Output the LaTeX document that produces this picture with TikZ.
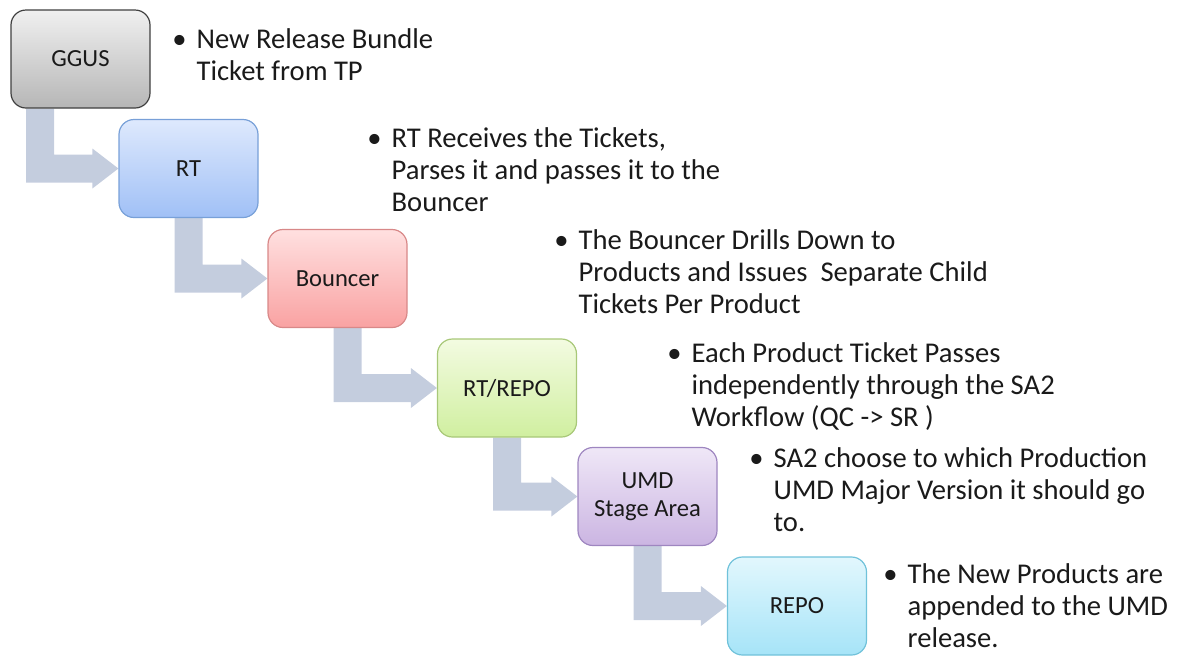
\documentclass[tikz,border=0pt]{standalone}
\usepackage{fontspec}
\setmainfont{Carlito}
\usetikzlibrary{calc,positioning,backgrounds}

\definecolor{arrowgray}{RGB}{196,205,222}
\definecolor{notetext}{RGB}{26,26,26}

\tikzset{
  stage/.style={rectangle, rounded corners=7.5pt, minimum width=69.5pt, minimum height=49pt,
    line width=0.6pt, text=notetext, align=center, font=\fontsize{12.3}{14}\selectfont},
  ggus/.style={stage, draw={rgb,255:red,64;green,64;blue,64}, top color={rgb,255:red,240;green,240;blue,240}, bottom color={rgb,255:red,182;green,182;blue,182}},
  rt/.style={stage, draw={rgb,255:red,120;green,160;blue,216}, top color={rgb,255:red,222;green,233;blue,253}, bottom color={rgb,255:red,160;green,192;blue,246}},
  bouncer/.style={stage, draw={rgb,255:red,216;green,136;blue,136}, top color={rgb,255:red,255;green,224;blue,224}, bottom color={rgb,255:red,249;green,162;blue,162}},
  rtrepo/.style={stage, draw={rgb,255:red,168;green,200;blue,120}, top color={rgb,255:red,243;green,251;blue,225}, bottom color={rgb,255:red,208;green,239;blue,160}},
  umd/.style={stage, draw={rgb,255:red,158;green,134;blue,192}, top color={rgb,255:red,239;green,231;blue,247}, bottom color={rgb,255:red,203;green,181;blue,226}},
  repo/.style={stage, draw={rgb,255:red,112;green,194;blue,218}, top color={rgb,255:red,226;green,247;blue,253}, bottom color={rgb,255:red,166;green,228;blue,248}},
  note/.style={anchor=base west, inner sep=0pt, text=notetext, font=\fontsize{14.3}{16}\selectfont},
  flowarrow/.style={fill=arrowgray}
}

% bent arrow from the bottom of #2 to the left side of #3, #1 shifts the shaft
\newcommand{\flowto}[3][0pt]{%
  \fill[flowarrow] let \p1=(#2.south), \p2=(#3.west) in
    (\x1+#1-7pt,\y1) -- (\x1+#1+7pt,\y1) -- (\x1+#1+7pt,\y2+7pt) -- (\x2-13pt,\y2+7pt)
    -- (\x2-13pt,\y2+10pt) -- (\x2,\y2) -- (\x2-13pt,\y2-10pt) -- (\x2-13pt,\y2-7pt)
    -- (\x1+#1-7pt,\y2-7pt) -- cycle;}

\begin{document}
\begin{tikzpicture}[x=0.5pt,y=-0.5pt]
  \useasboundingbox (0,0) rectangle (1179,655);

  \node[ggus] (ggus) at (80.5,59) {GGUS};
  \node[rt] (rt) at (188.5,168.5) {RT};
  \node[bouncer] (bouncer) at (337.5,278.5) {Bouncer};
  \node[rtrepo] (rtrepo) at (507,388) {RT/REPO};
  \node[umd] (umd) at (647.5,496.5) {UMD\\Stage Area};
  \node[repo] (repo) at (797,606) {REPO};

  \begin{pgfonlayer}{background}
    \flowto[-20.25pt]{ggus}{rt}
    \flowto{rt}{bouncer}
    \flowto[5pt]{bouncer}{rtrepo}
    \flowto{rtrepo}{umd}
    \flowto{umd}{repo}
  \end{pgfonlayer}

  \node[note] (note1) at (172,48) {\begin{tabular}[t]{@{}l@{\hspace{5pt}}l@{}}\textbullet & New Release Bundle\\ & Ticket from TP\end{tabular}};
  \node[note] (note2) at (367,147) {\begin{tabular}[t]{@{}l@{\hspace{5pt}}l@{}}\textbullet & RT Receives the Tickets,\\ & Parses it and passes it to the\\ & Bouncer\end{tabular}};
  \node[note] (note3) at (554,249) {\begin{tabular}[t]{@{}l@{\hspace{5pt}}l@{}}\textbullet & The Bouncer Drills Down to\\ & Products and Issues\ \ Separate Child\\ & Tickets Per Product\end{tabular}};
  \node[note] (note4) at (667,362) {\begin{tabular}[t]{@{}l@{\hspace{5pt}}l@{}}\textbullet & Each Product Ticket Passes\\ & independently through the SA2\\ & Workflow (QC -> SR )\end{tabular}};
  \node[note] (note5) at (749,467) {\begin{tabular}[t]{@{}l@{\hspace{5pt}}l@{}}\textbullet & SA2 choose to which Production\\ & UMD Major Version it should go\\ & to.\end{tabular}};
  \node[note] (note6) at (883,583) {\begin{tabular}[t]{@{}l@{\hspace{5pt}}l@{}}\textbullet & The New Products are\\ & appended to the UMD\\ & release.\end{tabular}};

\end{tikzpicture}
\end{document}
